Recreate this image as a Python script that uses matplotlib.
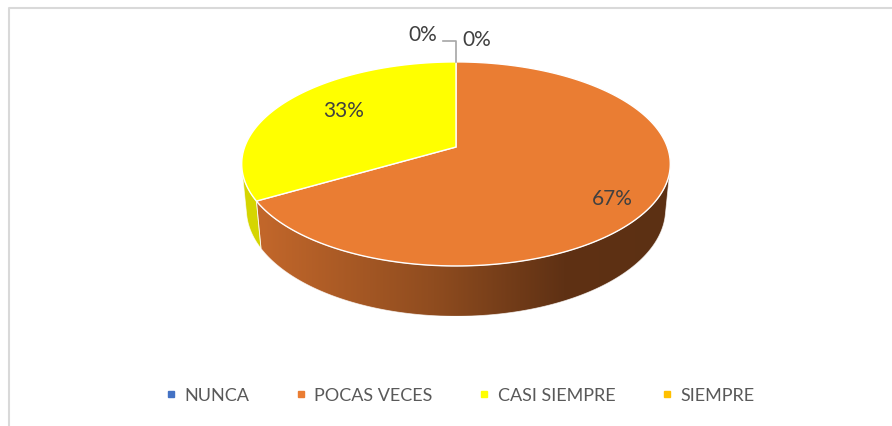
import numpy as np
import matplotlib
matplotlib.use("Agg")
import matplotlib.pyplot as plt
from matplotlib.patches import Polygon
from matplotlib.lines import Line2D
from matplotlib.colors import LinearSegmentedColormap

categories = ["NUNCA", "POCAS VECES", "CASI SIEMPRE", "SIEMPRE"]
values = [0, 66.67, 33.33, 0]
colors = ["#4472C4", "#EA7D33", "#FFFF00", "#FFC000"]
label_radius = [1.35, 0.8, 0.66, 1.35]
label_offset = [(21, 1.5), (0, 8), (2, -6), (-33, -4)]

# camera / projection for the tilted disc (pixel coords)
CX, CY = 456, 148
DIST = 1.0
RAD = 0.188
ELEV = np.radians(28)
FOCAL = 1124
THICK = 0.046


def project(phi, z=0.0, k=1.0):
    x = k * RAD * np.cos(phi)
    y = k * RAD * np.sin(phi)
    depth = DIST + y * np.cos(ELEV) - z * np.sin(ELEV)
    px = CX + FOCAL * x / depth
    py = CY - FOCAL * (y * np.sin(ELEV) + z * np.cos(ELEV)) / depth
    return px, py


fig = plt.figure(figsize=(8.92, 4.27), dpi=100)
ax = fig.add_axes([0, 0, 1, 1])
ax.set_xlim(0, 892)
ax.set_ylim(427, 0)
ax.axis("off")

# chart frame (only left/top edge visible in the crop)
ax.plot([9, 9, 892], [427, 9, 9], color="#d9d9d9", lw=1.5, solid_capstyle="butt")

total = sum(values)
fracs = [v / total for v in values]
starts = 90 - 360 * np.concatenate([[0], np.cumsum(fracs)[:-1]])
ends = starts - 360 * np.array(fracs)

# visible part of the cylinder wall
lim = np.degrees(np.arcsin(RAD / (DIST * np.cos(ELEV))))
vis_lo, vis_hi = -180 + lim, -lim

side_cmaps = {
    1: LinearSegmentedColormap.from_list(
        "oside", [(0, "#c86a2c"), (0.45, "#8f4c1f"), (0.75, "#5f3114"), (1, "#5c3013")]),
    2: LinearSegmentedColormap.from_list("yside", [(0, "#d6d600"), (1, "#c8c800")]),
}

for i, (a0, a1) in enumerate(zip(starts, ends)):
    if fracs[i] == 0:
        continue
    lo, hi = max(a1, vis_lo), min(a0, vis_hi)
    if lo >= hi:
        continue
    t = np.radians(np.linspace(lo, hi, 120))
    tx, ty = project(t, 0)
    bx, by = project(t[::-1], -THICK)
    pts = np.column_stack([np.r_[tx, bx], np.r_[ty, by]])
    poly = Polygon(pts, closed=True, facecolor="none", edgecolor="none")
    ax.add_patch(poly)
    grad = np.linspace(0, 1, 256).reshape(1, -1)
    x0, x1 = 240, 672
    im = ax.imshow(grad, cmap=side_cmaps.get(i), aspect="auto",
                   extent=[x0, x1, pts[:, 1].max(), pts[:, 1].min()], zorder=1)
    im.set_clip_path(poly)
    ax.add_patch(Polygon(pts, closed=True, facecolor="none", edgecolor="white",
                         lw=0.6, alpha=0.7, zorder=2))

for i, (a0, a1) in enumerate(zip(starts, ends)):
    if fracs[i] == 0:
        continue
    t = np.radians(np.linspace(a0, a1, 200))
    px, py = project(t, 0)
    pts = np.column_stack([np.r_[CX, px], np.r_[CY, py]])
    ax.add_patch(Polygon(pts, closed=True, facecolor=colors[i], edgecolor="white",
                         lw=1.0, zorder=3))

ax.set_xlim(0, 892)
ax.set_ylim(427, 0)

# data labels
lab_font = dict(family=["Lato", "DejaVu Sans"], fontsize=15, color="#404040")
for i, (a0, a1) in enumerate(zip(starts, ends)):
    mid = np.radians((a0 + a1) / 2)
    lx, ly = project(mid, 0, label_radius[i])
    lx += label_offset[i][0]
    ly += label_offset[i][1]
    ax.text(lx, ly, f"{values[i] / total * 100:.0f}%", ha="center", va="center",
            zorder=5, **lab_font)
    if fracs[i] == 0 and label_offset[i][0] < 0:
        ex, ey = project(np.radians(a0), 0)
        ax.plot([lx + 20, ex, ex], [ly + 7, ly + 7, ey], color="#a6a6a6", lw=1.2, zorder=4)

handles = [Line2D([], [], marker="s", ls="none", markersize=4.5, color=c) for c in colors]
leg = ax.legend(handles, categories, loc="center", bbox_to_anchor=(0.516, 0.073),
                ncol=4, frameon=False, handlelength=0.5, handletextpad=0.5,
                columnspacing=2.6, prop={"family": ["Lato", "DejaVu Sans"], "size": 13})
for txt in leg.get_texts():
    txt.set_color("#595959")

fig.savefig("out.png", dpi=100, facecolor="white")
